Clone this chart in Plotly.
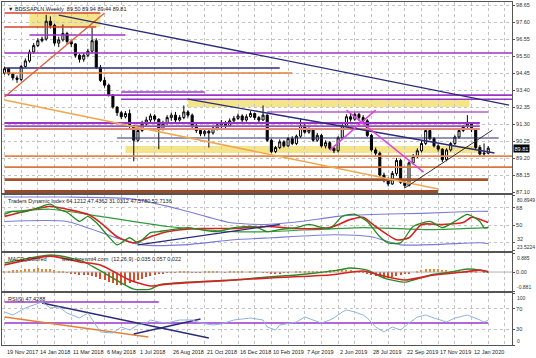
import plotly.graph_objects as go
from plotly.subplots import make_subplots

# ---------------- weekly price bars ----------------
OPEN = [94.45, 94.72, 94.40, 94.15, 94.05, 94.85, 95.20, 95.75, 96.15, 96.45,
        96.55, 97.65, 97.40, 96.30, 96.50, 96.90, 96.40, 96.25, 95.55, 95.30,
        95.55, 95.80, 96.45, 94.80, 94.00, 93.70, 93.10, 92.35, 92.00, 91.75,
        91.95, 91.20, 90.30, 90.90, 91.30, 91.55, 91.80, 91.60, 91.00, 91.35,
        91.70, 91.85, 91.55, 91.70, 92.05, 91.85, 91.20, 90.90, 90.70, 90.85,
        90.75, 91.05, 91.25, 91.40, 91.20, 91.50, 91.65, 91.80, 91.55, 91.75,
        91.95, 91.70, 91.55, 91.85, 90.30, 89.60, 89.85, 90.20, 89.95, 90.40,
        90.10, 90.55, 91.20, 90.80, 90.95, 90.30, 90.60, 89.95, 90.15, 89.80,
        89.65, 90.45, 91.20, 91.75, 91.60, 91.90, 91.70, 91.50, 90.60, 89.70,
        89.50, 88.15, 87.80, 87.60, 88.25, 89.05, 87.70, 87.50, 88.90, 89.30,
        89.65, 90.10, 90.90, 90.40, 89.95, 89.75, 89.10, 89.70, 90.10, 90.50,
        90.90, 91.15, 91.30, 90.95, 89.85, 89.45, 89.50]
HIGH = [94.85, 94.78, 94.45, 94.30, 94.95, 95.35, 95.90, 96.30, 96.60, 96.70,
        98.05, 97.95, 97.50, 96.70, 97.45, 97.00, 96.50, 96.30, 95.65, 95.70,
        95.95, 97.25, 96.60, 94.95, 94.20, 93.80, 93.15, 92.40, 92.10, 92.10,
        92.20, 91.25, 91.10, 91.50, 91.75, 91.95, 91.90, 91.65, 91.50, 91.85,
        92.00, 92.05, 91.85, 92.45, 92.15, 91.95, 91.30, 91.00, 91.00, 90.95,
        91.20, 91.40, 91.55, 91.50, 91.65, 91.80, 91.95, 91.90, 91.90, 92.10,
        92.00, 91.80, 92.45, 91.90, 90.40, 89.95, 90.35, 90.30, 90.50, 90.55,
        90.65, 91.60, 91.30, 91.10, 91.05, 90.75, 90.70, 90.30, 90.25, 89.90,
        90.55, 91.30, 91.90, 91.95, 92.05, 92.00, 91.85, 91.60, 90.70, 89.85,
        89.60, 88.30, 88.00, 88.40, 89.20, 89.15, 87.85, 89.00, 89.45, 89.80,
        90.25, 91.00, 91.00, 90.50, 90.05, 89.80, 89.80, 90.20, 90.60, 91.00,
        91.25, 91.85, 91.40, 91.05, 90.00, 90.10, 89.94]
LOW = [94.35, 94.30, 94.00, 93.85, 93.95, 94.80, 95.10, 95.65, 96.05, 96.35,
       96.45, 97.20, 96.15, 96.05, 96.40, 96.25, 96.05, 95.40, 95.10, 95.15,
       95.45, 95.70, 94.70, 93.90, 93.55, 93.00, 92.25, 91.80, 91.60, 91.65,
       91.05, 89.00, 90.20, 90.80, 91.20, 91.40, 91.45, 89.75, 90.90, 91.25,
       91.50, 91.40, 91.45, 91.60, 91.70, 91.05, 90.75, 90.55, 90.55, 89.85,
       90.65, 90.90, 91.05, 91.05, 91.15, 91.40, 91.55, 91.40, 91.45, 91.70,
       91.55, 91.40, 91.50, 90.20, 89.50, 89.50, 89.75, 89.85, 89.90, 90.00,
       90.00, 90.45, 90.70, 90.70, 90.20, 90.20, 89.85, 89.80, 89.70, 89.50,
       89.55, 90.35, 91.10, 91.45, 91.50, 91.50, 91.30, 90.50, 89.60, 89.30,
       88.05, 87.70, 87.45, 87.55, 88.10, 87.60, 87.35, 87.45, 88.80, 89.20,
       89.55, 90.00, 90.30, 89.85, 89.60, 88.95, 89.00, 89.60, 90.00, 90.40,
       90.80, 91.00, 90.80, 89.75, 89.35, 89.30, 89.44]
CLOSE = [94.72, 94.40, 94.15, 94.05, 94.85, 95.20, 95.75, 96.15, 96.45, 96.55,
         97.65, 97.40, 96.30, 96.50, 96.90, 96.40, 96.25, 95.55, 95.30, 95.55,
         95.80, 96.45, 94.80, 94.00, 93.70, 93.10, 92.35, 92.00, 91.75, 91.95,
         91.20, 90.30, 90.90, 91.30, 91.55, 91.80, 91.60, 91.00, 91.35, 91.70,
         91.85, 91.55, 91.70, 92.05, 91.85, 91.20, 90.90, 90.70, 90.85, 90.75,
         91.05, 91.25, 91.40, 91.20, 91.50, 91.65, 91.80, 91.55, 91.75, 91.95,
         91.70, 91.55, 91.85, 90.30, 89.60, 89.85, 90.20, 89.95, 90.40, 90.10,
         90.55, 91.20, 90.80, 90.95, 90.30, 90.60, 89.95, 90.15, 89.80, 89.65,
         90.45, 91.20, 91.75, 91.60, 91.90, 91.70, 91.50, 90.60, 89.70, 89.50,
         88.15, 87.80, 87.60, 88.25, 89.05, 87.70, 87.50, 88.90, 89.30, 89.65,
         90.10, 90.90, 90.40, 89.95, 89.75, 89.10, 89.70, 90.10, 90.50, 90.90,
         91.15, 91.30, 90.95, 89.85, 89.45, 89.50, 89.81]
BARS = list(range(len(CLOSE)))

DATE_LABELS = ["19 Nov 2017", "14 Jan 2018", "11 Mar 2018", "6 May 2018", "1 Jul 2018",
               "26 Aug 2018", "21 Oct 2018", "16 Dec 2018", "10 Feb 2019", "7 Apr 2019",
               "2 Jun 2019", "28 Jul 2019", "22 Sep 2019", "17 Nov 2019", "12 Jan 2020"]
DATE_BARS = [0, 8, 16, 24, 32, 40, 48, 56, 64, 72, 80, 88, 96, 104, 112]

PRICE_TICKS = [98.65, 97.60, 96.55, 95.50, 94.45, 93.40, 92.35, 91.30, 90.25, 89.20, 88.15, 87.10]

# horizontal levels drawn on the price window
LEVEL_PRICE = [98.16, 97.29, 96.80, 95.69, 94.76, 94.45, 93.28, 93.09, 92.84, 92.04,
               91.36, 91.17, 90.99, 90.44, 89.32, 88.64, 87.87, 87.12]
LEVEL_FROM = [0, 0, 6, 0, 0, 0, 28, 0, 28, 63, 0, 0, 0, 27, 0, 0, 0, 0]
LEVEL_TO = [23, 22, 29, 122, 66, 69, 48, 122, 122, 116, 114, 114, 114, 118.5, 122, 122, 116, 104]

# shaded zones
ZONE_LOW = [97.29, 92.36, 89.51]
ZONE_HIGH = [98.16, 92.84, 89.94]
ZONE_FROM = [6, 44, 29]
ZONE_TO = [23, 111.5, 114]

# trend lines on price window
TREND_X0 = [0, 0, 13, 44, 78, 82, 96]
TREND_Y0 = [92.97, 92.78, 98.03, 92.84, 89.69, 92.16, 87.35]
TREND_X1 = [24, 104, 121, 117.5, 89, 100.5, 117]
TREND_Y1 = [98.16, 87.29, 92.47, 89.51, 92.16, 88.33, 90.93]

# ---------------- Traders Dynamic Index ----------------
TDI_TICKS = [80.8949, 68, 50, 32, 23.5224]
TDI_UP_BAR = [0, 15, 31, 42, 54, 62, 71, 80, 90, 100, 114, 116]
TDI_UP_VAL = [78.8, 78.8, 76.7, 66.3, 52.7, 50.7, 53.8, 59.0, 61.1, 62.1, 64.2, 64.1]
TDI_LO_BAR = [0, 15, 26, 33, 43, 55, 64, 79, 88, 95, 114, 116]
TDI_LO_VAL = [53.8, 53.8, 38.1, 29.8, 29.8, 35.0, 37.1, 40.2, 38.1, 29.8, 31.9, 31.0]
TDI_RSI_BAR = [0, 2, 4, 7, 11, 13, 15, 18, 20, 22, 25, 27, 30, 32, 35, 37, 40, 44, 47, 51,
               55, 60, 63, 66, 70, 73, 78, 81, 84, 87, 90, 92, 95, 98, 102, 105, 108, 111,
               114, 115, 116]
TDI_RSI_VAL = [61.1, 64.2, 63.2, 66.3, 71.5, 66.3, 63.2, 53.8, 59.0, 52.7, 38.1, 29.8, 37.1,
               31.9, 42.3, 43.3, 45.4, 47.5, 45.4, 43.3, 47.5, 48.6, 43.3, 45.4, 47.5, 50.7,
               46.5, 59.0, 61.1, 53.8, 38.1, 31.9, 31.9, 48.6, 53.8, 47.5, 53.8, 61.1, 53.8,
               47.5, 47.6]
TDI_SIG_BAR = [0, 7, 11, 15, 20, 23, 27, 31, 35, 39, 47, 55, 63, 70, 78, 83, 86, 89, 94, 97,
               100, 105, 110, 112, 116]
TDI_SIG_VAL = [59.0, 66.3, 69.4, 66.3, 61.1, 52.7, 38.1, 31.9, 38.1, 43.3, 46.5, 46.5, 48.6,
               46.5, 47.5, 55.9, 58.0, 48.6, 35.0, 37.1, 50.7, 50.7, 52.7, 58.0, 52.7]
TDI_BASE_BAR = [0, 11, 23, 39, 55, 63, 86, 102, 116]
TDI_BASE_VAL = [63.2, 66.3, 59.0, 48.6, 43.3, 43.3, 47.5, 45.4, 47.4]
TDI_TREND_BAR = [32, 66]
TDI_TREND_VAL = [29.8, 50.7]

# ---------------- MACD ----------------
MACD_TICKS = [0.885, 0.0, -0.881]
MACD_MAIN_BAR = [0, 6, 11, 16, 19, 24, 26, 31, 35, 37, 44, 55, 63, 70, 80, 83, 87, 91, 96,
                 98, 102, 107, 111, 114, 116]
MACD_MAIN_VAL = [0.42, 0.65, 0.79, 0.65, 0.47, -0.05, -0.28, -0.79, -0.79, -0.60, -0.47,
                 -0.37, -0.23, -0.14, 0.09, 0.19, 0.09, -0.28, -0.47, -0.37, -0.14, 0.00,
                 0.14, 0.09, 0.00]
MACD_SIG_BAR = [0, 11, 18, 23, 30, 35, 39, 55, 63, 78, 86, 90, 96, 103, 110, 114, 116]
MACD_SIG_VAL = [0.33, 0.74, 0.47, 0.33, -0.37, -0.65, -0.56, -0.37, -0.28, -0.14, 0.05,
                -0.14, -0.37, -0.14, 0.00, 0.09, 0.02]
MACD_HIST = [0.05, 0.06, 0.08, 0.08, 0.10, 0.12, 0.14, 0.16, 0.17, 0.16,
             0.15, 0.12, 0.08, 0.04, 0.02, -0.02, -0.06, -0.10, -0.12, -0.14,
             -0.16, -0.18, -0.22, -0.30, -0.38, -0.45, -0.52, -0.58, -0.60, -0.58,
             -0.52, -0.45, -0.38, -0.30, -0.24, -0.18, -0.12, -0.08, -0.05, -0.03,
             -0.02, -0.01, 0.01, 0.02, 0.01, -0.01, -0.02, -0.01, 0.01, 0.01,
             0.02, 0.01, 0.00, -0.01, 0.01, 0.02, 0.02, 0.01, 0.00, 0.01,
             0.01, 0.00, -0.01, -0.03, -0.05, -0.06, -0.05, -0.03, -0.02, 0.00,
             0.01, 0.02, 0.03, 0.03, 0.02, 0.02, 0.04, 0.06, 0.08, 0.10,
             0.12, 0.12, 0.10, 0.08, 0.05, 0.02, -0.03, -0.08, -0.14, -0.20,
             -0.25, -0.28, -0.28, -0.25, -0.20, -0.16, -0.10, -0.05, 0.00, 0.05,
             0.10, 0.13, 0.14, 0.14, 0.12, 0.10, 0.08, 0.06, 0.05, 0.04,
             0.04, 0.03, 0.02, 0.01, 0.00, -0.01, -0.02]

# ---------------- RSI(9) ----------------
RSI_TICKS = [100, 70, 30, 0]
RSI_BAR = [0, 2, 5, 7, 9, 11, 13, 15, 18, 20, 22, 23, 26, 28, 30, 32, 34, 35, 37, 39, 42,
           45, 47, 50, 52, 55, 59, 62, 63, 65, 66, 70, 72, 74, 76, 78, 79, 81, 82, 84, 86,
           87, 89, 91, 93, 95, 97, 99, 101, 103, 106, 108, 111, 114, 115, 116]
RSI_VAL = [63.5, 57.7, 71.2, 76.9, 82.7, 71.2, 73.1, 61.5, 51.9, 61.5, 38.5, 25.0, 23.1,
           34.6, 28.8, 38.5, 42.3, 48.1, 44.2, 42.3, 48.1, 48.1, 42.3, 38.5, 40.4, 48.1,
           51.9, 48.1, 34.6, 28.8, 38.5, 44.2, 53.8, 48.1, 42.3, 48.1, 51.9, 63.5, 67.3,
           63.5, 57.7, 51.9, 34.6, 25.0, 34.6, 28.8, 42.3, 53.8, 57.7, 51.9, 44.2, 51.9,
           57.7, 48.1, 44.0, 47.4]
RSI_LEVEL = [82.7, 42.3]
RSI_LEVEL_FROM = [0, 0]
RSI_LEVEL_TO = [37, 116]
RSI_TREND_X0 = [0, 9, 31]
RSI_TREND_Y0 = [53.8, 80.8, 21.2]
RSI_TREND_X1 = [34.5, 49, 47]
RSI_TREND_Y1 = [15.4, 13.5, 50.0]

# ---------------- styling ----------------
PURPLE = "#9b35c8"
NAVY = "#2b2b78"
LEVEL_COLOR = ["#d8402c", "#d8402c", PURPLE, PURPLE, NAVY, "#e57f38", PURPLE, PURPLE, PURPLE,
               "#b45ccf", PURPLE, "#a24bc4", "#e08a78", NAVY, "#e2854a", "#d9773f",
               "#a4532c", "#9a4a28"]
LEVEL_WIDTH = [1.5, 1.5, 1.5, 1.6, 1.6, 1.6, 1.3, 1.6, 1.5, 1.5, 2.0, 1.8, 2.0, 1.2, 1.6,
               1.6, 2.6, 3.2]
TREND_COLOR = ["#e05a3a", "#f0a850", NAVY, NAVY, "#dd44dd", "#dd44dd", "#333333"]
TREND_WIDTH = [1.3, 1.5, 1.4, 1.4, 1.4, 1.4, 1.0]

FONT = "Liberation Sans"
XR = [-0.6, 121.7]
DOMAINS = [[0.4431, 1.0], [0.2741, 0.4373], [0.1574, 0.2682], [0.0, 0.1516]]

fig = make_subplots(rows=4, cols=1, shared_xaxes=True, vertical_spacing=0.01)

for k in range(len(ZONE_LOW)):
    fig.add_shape(type="rect", xref="x", yref="y", x0=ZONE_FROM[k], x1=ZONE_TO[k],
                  y0=ZONE_LOW[k], y1=ZONE_HIGH[k], fillcolor="#f3e27e", opacity=0.9,
                  line_width=0, layer="below")

for k in range(len(LEVEL_PRICE)):
    fig.add_trace(go.Scatter(x=[LEVEL_FROM[k], LEVEL_TO[k]], y=[LEVEL_PRICE[k], LEVEL_PRICE[k]],
                             mode="lines", line=dict(color=LEVEL_COLOR[k], width=LEVEL_WIDTH[k]),
                             hoverinfo="skip", showlegend=False), row=1, col=1)

for k in range(len(TREND_X0)):
    fig.add_trace(go.Scatter(x=[TREND_X0[k], TREND_X1[k]], y=[TREND_Y0[k], TREND_Y1[k]],
                             mode="lines", line=dict(color=TREND_COLOR[k], width=TREND_WIDTH[k]),
                             hoverinfo="skip", showlegend=False), row=1, col=1)

fig.add_trace(go.Candlestick(x=BARS, open=OPEN, high=HIGH, low=LOW, close=CLOSE,
                             increasing=dict(line=dict(color="black", width=1), fillcolor="white"),
                             decreasing=dict(line=dict(color="black", width=1), fillcolor="black"),
                             whiskerwidth=0, showlegend=False), row=1, col=1)

# TDI
def tdi_line(xs, ys, color, width):
    fig.add_trace(go.Scatter(x=xs, y=ys, mode="lines",
                             line=dict(color=color, width=width, shape="spline", smoothing=0.6),
                             hoverinfo="skip", showlegend=False), row=2, col=1)

tdi_line(TDI_UP_BAR, TDI_UP_VAL, "#7b7bd8", 1.1)
tdi_line(TDI_LO_BAR, TDI_LO_VAL, "#7b7bd8", 1.1)
tdi_line(TDI_BASE_BAR, TDI_BASE_VAL, "#2f9a3a", 1.2)
tdi_line(TDI_SIG_BAR, TDI_SIG_VAL, "#d82222", 1.6)
tdi_line(TDI_RSI_BAR, TDI_RSI_VAL, "#248a24", 1.3)
fig.add_trace(go.Scatter(x=TDI_TREND_BAR, y=TDI_TREND_VAL, mode="lines",
                         line=dict(color=NAVY, width=1.4), hoverinfo="skip", showlegend=False),
              row=2, col=1)

# MACD
HIST_COLOR = ["#e8892e" if v >= 0 else "#d8502a" for v in MACD_HIST]
fig.add_trace(go.Scatter(x=[XR[0], XR[1]], y=[0, 0], mode="lines",
                         line=dict(color="#b0b0b0", width=1),
                         hoverinfo="skip", showlegend=False), row=3, col=1)
fig.add_trace(go.Bar(x=BARS, y=MACD_HIST, width=0.28, marker=dict(color=HIST_COLOR, line_width=0),
                     showlegend=False, hoverinfo="skip"), row=3, col=1)
fig.add_trace(go.Scatter(x=MACD_MAIN_BAR, y=MACD_MAIN_VAL, mode="lines",
                         line=dict(color="#2a8a2a", width=1.4, shape="spline", smoothing=0.6),
                         hoverinfo="skip", showlegend=False), row=3, col=1)
fig.add_trace(go.Scatter(x=MACD_SIG_BAR, y=MACD_SIG_VAL, mode="lines",
                         line=dict(color="#d82222", width=1.6, shape="spline", smoothing=0.6),
                         hoverinfo="skip", showlegend=False), row=3, col=1)

# RSI
for k in range(len(RSI_LEVEL)):
    fig.add_trace(go.Scatter(x=[RSI_LEVEL_FROM[k], RSI_LEVEL_TO[k]], y=[RSI_LEVEL[k], RSI_LEVEL[k]],
                             mode="lines", line=dict(color=PURPLE, width=1.6),
                             hoverinfo="skip", showlegend=False), row=4, col=1)
RSI_TREND_COLOR = ["#e57f38", NAVY, NAVY]
for k in range(len(RSI_TREND_X0)):
    fig.add_trace(go.Scatter(x=[RSI_TREND_X0[k], RSI_TREND_X1[k]], y=[RSI_TREND_Y0[k], RSI_TREND_Y1[k]],
                             mode="lines", line=dict(color=RSI_TREND_COLOR[k], width=1.4),
                             hoverinfo="skip", showlegend=False), row=4, col=1)
fig.add_trace(go.Scatter(x=RSI_BAR, y=RSI_VAL, mode="lines", line=dict(color="#8fb4e3", width=1),
                         hoverinfo="skip", showlegend=False), row=4, col=1)

# ---------------- axes ----------------
tick_font = dict(family=FONT, size=5.5, color="#333333")
edge_font = dict(family=FONT, size=5, color="#333333")
axis_common = dict(showline=True, mirror=True, linecolor="#555555", linewidth=1, zeroline=False,
                   automargin=False)

for r in range(1, 5):
    fig.update_xaxes(range=XR, tickmode="linear", tick0=0, dtick=4, showticklabels=False,
                     showgrid=True, gridcolor="#c4c4c4", griddash="dot", gridwidth=1,
                     rangeslider_visible=False, ticks="", row=r, col=1, **axis_common)

# interior tick labels on the axes; crowded labels are placed as annotations
fig.update_yaxes(range=[87.04, 98.84], side="right", tickvals=PRICE_TICKS,
                 ticktext=[f"{v:.2f}" for v in PRICE_TICKS], row=1, col=1)
fig.update_yaxes(range=[TDI_TICKS[-1], TDI_TICKS[0]], side="right", tickvals=TDI_TICKS,
                 ticktext=["", "68", "50", "", ""], row=2, col=1)
fig.update_yaxes(range=[MACD_TICKS[-1], MACD_TICKS[0]], side="right", tickvals=MACD_TICKS,
                 ticktext=["", "0.00", ""], row=3, col=1)
fig.update_yaxes(range=[0, 100], side="right", tickvals=RSI_TICKS,
                 ticktext=["", "70", "30", ""], row=4, col=1)
fig.update_yaxes(showgrid=True, gridcolor="#c4c4c4", griddash="dot", gridwidth=1,
                 ticks="outside", ticklen=2, tickcolor="#555555", tickfont=tick_font,
                 **axis_common)
fig.update_yaxes(showgrid=False, row=3, col=1)

fig.update_layout(
    width=536, height=358,
    margin=dict(l=2, r=24, t=2, b=13),
    paper_bgcolor="white", plot_bgcolor="white",
    showlegend=False, bargap=0,
    font=dict(family=FONT, size=6, color="#222222"),
    yaxis=dict(domain=DOMAINS[0]),
    yaxis2=dict(domain=DOMAINS[1]),
    yaxis3=dict(domain=DOMAINS[2]),
    yaxis4=dict(domain=DOMAINS[3]),
)

# edge labels of the indicator windows
EDGE_TEXT = [("80.8949", "23.5224"), ("0.885", "-0.881"), ("100", "0")]
for (top_txt, bot_txt), dom in zip(EDGE_TEXT, DOMAINS[1:]):
    fig.add_annotation(text=top_txt, xref="paper", yref="paper", x=1.0, y=dom[1], xanchor="left",
                       yanchor="top", xshift=3, yshift=0, showarrow=False, font=edge_font)
    fig.add_annotation(text=bot_txt, xref="paper", yref="paper", x=1.0, y=dom[0], xanchor="left",
                       yanchor="bottom", xshift=3, yshift=-1, showarrow=False, font=edge_font)
# TDI "32" label sits just above its level
fig.add_annotation(text="32", xref="paper", yref="y2", x=1.0, y=TDI_TICKS[3], xanchor="left",
                   yanchor="bottom", xshift=3, yshift=-1, showarrow=False, font=tick_font)

# ---------------- texts ----------------
ann_font = dict(family=FONT, size=5.5, color="#222222")
fig.add_annotation(text="▼ BDSSAPLN,Weekly  89.50 89.94 89.44 89.81", xref="paper", yref="paper",
                   x=0.008, y=1.0, xanchor="left", yanchor="top", yshift=-2, showarrow=False,
                   font=ann_font)
fig.add_annotation(text="Traders Dynamic Index 64.1212 47.4362 31.0312 47.5780 52.7136", xref="paper",
                   yref="paper", x=0.008, y=DOMAINS[1][1], xanchor="left", yanchor="top", yshift=-1,
                   showarrow=False, font=ann_font)
fig.add_annotation(text="MACD_Colored          www.forexmt4.com  (12,26,9) -0.035 0.057 0.022",
                   xref="paper", yref="paper", x=0.008, y=DOMAINS[2][1], xanchor="left",
                   yanchor="top", yshift=-1, showarrow=False, font=ann_font)
fig.add_annotation(text="RSI(9) 47.4288", xref="paper", yref="paper", x=0.008, y=DOMAINS[3][1],
                   xanchor="left", yanchor="top", yshift=-1, showarrow=False, font=ann_font)

fig.add_annotation(text="89.81", xref="paper", yref="y", x=1.0, y=CLOSE[-1], xanchor="left",
                   yanchor="middle", xshift=1, showarrow=False, bgcolor="black",
                   font=dict(family=FONT, size=5.5, color="white"), borderpad=0.5)

for lbl, b in zip(DATE_LABELS, DATE_BARS):
    fig.add_annotation(text=lbl, xref="x4", yref="paper", x=b, y=0, xanchor="left", yanchor="top",
                       yshift=-2, showarrow=False, font=ann_font)

fig.write_html("out.html", config={"displayModeBar": False},
               post_script="document.body.style.margin='0px';document.body.style.overflow='hidden';")
